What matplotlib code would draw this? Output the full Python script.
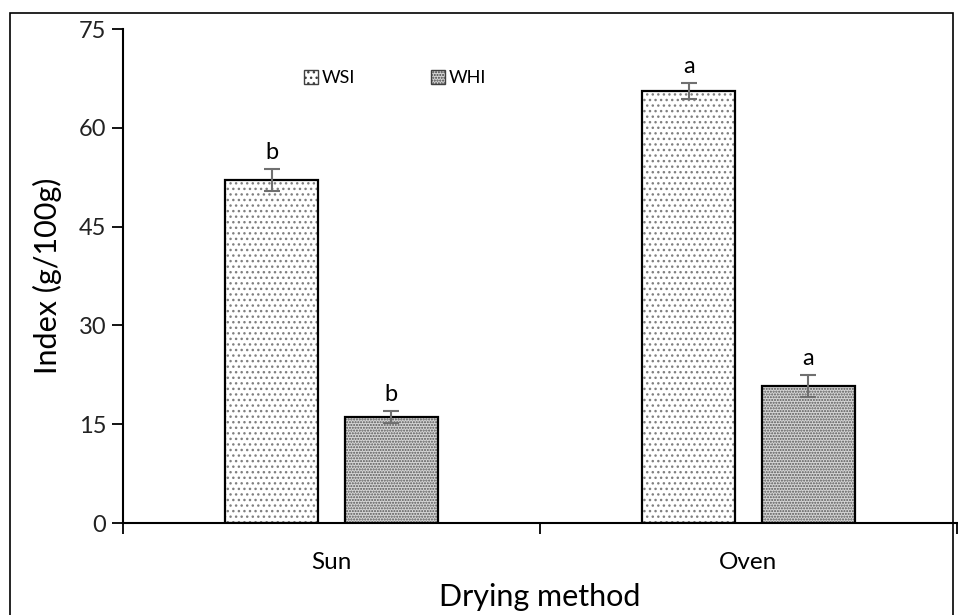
import numpy as np
import matplotlib.pyplot as plt
from matplotlib.patches import Rectangle, Patch

methods = ['Sun', 'Oven']
wsi = [52.1, 65.6]
wsi_err = [1.7, 1.2]
whi = [16.1, 20.8]
whi_err = [0.9, 1.7]
wsi_letters = ['b', 'a']
whi_letters = ['b', 'a']

plt.rcParams['font.family'] = ['Lato', 'DejaVu Sans']
plt.rcParams['hatch.linewidth'] = 1.0

fig = plt.figure(figsize=(9.58, 6.15), dpi=100)
ax = fig.add_axes([123/958, 1 - 523/615, 834/958, 494/615])

x = np.arange(len(methods))
w = 0.223
off = 0.143

# hatched fills first, then black outlines on top
ax.bar(x - off, wsi, w, color='white', edgecolor='#808080', hatch='...', linewidth=0)
ax.bar(x + off, whi, w, color='#d6d6d6', edgecolor='#555555', hatch='......', linewidth=0)
ax.bar(x - off, wsi, w, fill=False, edgecolor='black', linewidth=1.6)
ax.bar(x + off, whi, w, fill=False, edgecolor='black', linewidth=1.6)

ax.errorbar(x - off, wsi, yerr=wsi_err, fmt='none', ecolor='#707070',
            elinewidth=1.5, capsize=6, capthick=1.5)
ax.errorbar(x + off, whi, yerr=whi_err, fmt='none', ecolor='#707070',
            elinewidth=1.5, capsize=6, capthick=1.5)

for i in range(len(methods)):
    ax.annotate(wsi_letters[i], (x[i] - off, wsi[i] + wsi_err[i]),
                xytext=(0, 4), textcoords='offset points', ha='center',
                va='bottom', fontsize=17)
    ax.annotate(whi_letters[i], (x[i] + off, whi[i] + whi_err[i]),
                xytext=(0, 4), textcoords='offset points', ha='center',
                va='bottom', fontsize=17)

ax.set_xlim(-0.5, 1.5)
ax.set_ylim(0, 75)
ax.set_yticks(np.arange(0, 76, 15))
ax.set_xticks([-0.5, 0.5, 1.5])
ax.set_xticklabels([])
ax.set_xticks(x, minor=True)
ax.set_xticklabels(methods, minor=True)
ax.tick_params(axis='x', which='minor', length=0, pad=21, labelsize=17.5)
ax.tick_params(axis='x', which='major', length=8, width=1.3, direction='out')
ax.tick_params(axis='y', length=8, width=1.3, direction='out', labelsize=17,
               pad=4, labelcolor='#222222')

for s in ['top', 'right']:
    ax.spines[s].set_visible(False)
for s in ['left', 'bottom']:
    ax.spines[s].set_linewidth(1.5)

ax.set_ylabel('Index (g/100g)', fontsize=22, labelpad=12)
ax.set_xlabel('Drying method', fontsize=22, labelpad=7)

handles = [Patch(facecolor='white', edgecolor='#404040', hatch='...', linewidth=1),
           Patch(facecolor='#d6d6d6', edgecolor='#404040', hatch='......', linewidth=1)]
ax.legend(handles, ['WSI', 'WHI'], loc='center', bbox_to_anchor=(0.326, 0.9),
          ncol=2, frameon=False, fontsize=13, handlelength=0.8,
          handleheight=0.8, handletextpad=0.2, columnspacing=4.2)

# outer frame around the chart
fig.patches.append(Rectangle((10/958, -0.05), 943/958, 1.05 - 13/615,
                             transform=fig.transFigure, fill=False,
                             edgecolor='black', linewidth=1.2))

fig.savefig('out.png', dpi=100)
